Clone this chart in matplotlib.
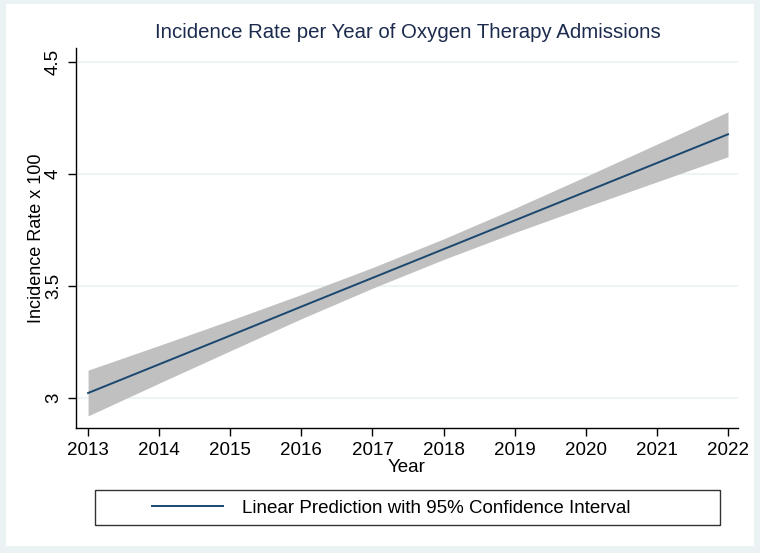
import numpy as np
import matplotlib.pyplot as plt
from matplotlib.patches import Rectangle
from matplotlib.lines import Line2D

############### Data
years = [2013, 2014, 2015, 2016, 2017, 2018, 2019, 2020, 2021, 2022]
pred = [3.023, 3.151, 3.279, 3.408, 3.536, 3.664, 3.792, 3.920, 4.048, 4.176]
ci_lo = [2.921, 3.067, 3.211, 3.354, 3.490, 3.618, 3.738, 3.852, 3.964, 4.076]
ci_hi = [3.125, 3.235, 3.347, 3.462, 3.582, 3.710, 3.846, 3.988, 4.132, 4.276]
yticks = [3, 3.5, 4, 4.5]
ytick_labels = ['3', '3.5', '4', '4.5']

plt.rcParams['font.family'] = ['Liberation Sans', 'DejaVu Sans']

############### Figure
fig = plt.figure(figsize=(7.6, 5.53), dpi=100)
fig.patch.set_facecolor('#eaf2f3')
fig.add_artist(Rectangle((0.008, 0.012), 0.984, 0.98, transform=fig.transFigure,
                         facecolor='white', edgecolor='none', zorder=-10))

ax = fig.add_axes([0.1, 0.226, 0.871, 0.687])
ax.set_facecolor('white')

ax.fill_between(years, ci_lo, ci_hi, color='#c0c0c0', linewidth=0, zorder=2)
ax.plot(years, pred, color='#1a476f', linewidth=1.4, zorder=3)

ax.set_xlim(2012.83, 2022.14)
ax.set_ylim(2.867, 4.56)
ax.set_xticks(years)
ax.set_yticks(yticks)
ax.set_yticklabels(ytick_labels, rotation=90, va='center')
ax.tick_params(labelsize=13.5, length=6, width=1, color='black', pad=4)

for y in yticks:
    ax.axhline(y, color='#eaf2f3', linewidth=1.2, zorder=1)

for s in ['top', 'right']:
    ax.spines[s].set_visible(False)
for s in ['left', 'bottom']:
    ax.spines[s].set_linewidth(1)
    ax.spines[s].set_color('black')

ax.set_xlabel('Year', fontsize=13.5, labelpad=0)
ax.set_ylabel('Incidence Rate x 100', fontsize=13, labelpad=0)

fig.text(0.537, 0.942, 'Incidence Rate per Year of Oxygen Therapy Admissions',
         ha='center', va='center', fontsize=14.7, color='#1c2b4d')

############### Legend
fig.add_artist(Rectangle((95 / 760, 1 - 525 / 553), 625 / 760, 35 / 553,
                         transform=fig.transFigure, facecolor='white',
                         edgecolor='#333333', linewidth=1))
handle = Line2D([0], [0], color='#1a476f', linewidth=1.4)
fig.legend([handle], ['Linear Prediction with 95% Confidence Interval'],
           loc='center', bbox_to_anchor=(391 / 760, 1 - 508 / 553),
           frameon=False, fontsize=13.5, handlelength=3.8, handletextpad=1.0)

fig.savefig('out.png', dpi=100)
